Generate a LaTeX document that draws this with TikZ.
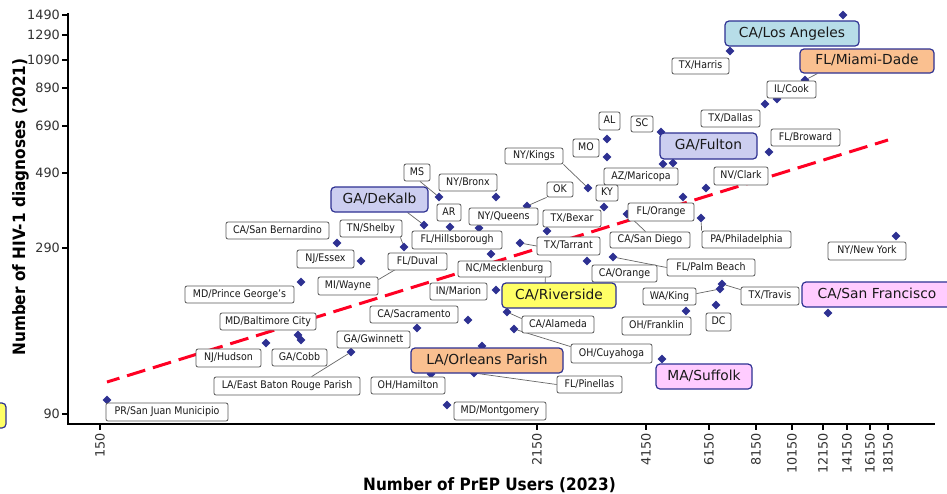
\documentclass[tikz,border=0pt]{standalone}
\usepackage{fontspec}
\setmainfont{DejaVu Sans}
\newfontfamily\labfont[FakeStretch=0.9]{DejaVu Sans}
\newfontfamily\titlefont[FakeStretch=0.9]{DejaVu Sans Bold}
\usetikzlibrary{shapes.geometric,calc}
\pgfdeclarelayer{back}
\pgfdeclarelayer{mid}
\pgfsetlayers{back,mid,main}
\definecolor{navy}{RGB}{46,49,146}
\definecolor{tealf}{RGB}{183,221,232}
\definecolor{orangef}{RGB}{250,192,144}
\definecolor{lavf}{RGB}{204,206,240}
\definecolor{yelf}{RGB}{255,255,102}
\definecolor{pinkf}{RGB}{255,204,255}
\definecolor{trend}{RGB}{255,0,35}
\tikzset{
  lab/.style={draw=black!65, line width=0.8pt, fill=white, rounded corners=2pt, inner sep=0pt,
    font=\labfont\fontsize{10.5}{12}\selectfont, text=black!90, text height=7.6pt, text depth=2.0pt},
  big/.style={draw=navy, line width=1.2pt, rounded corners=4pt, inner sep=0pt,
    font=\fontsize{13.8}{16}\selectfont, text=black!90, text height=10.2pt, text depth=2.6pt},
  dia/.style={diamond, fill=navy, inner sep=0pt, minimum width=9pt, minimum height=9pt},
  conn/.style={draw=black!60, line width=0.7pt},
  tick/.style={line width=1.3pt},
  ticklab/.style={font=\fontsize{12.8}{14}\selectfont, text=black!80, inner sep=0pt},
  axtitle/.style={font=\titlefont\fontsize{17}{20}\selectfont, inner sep=0pt}
}
\newcommand\boxat[6]{%
  \pgfmathsetmacro\cx{(#3+#5)/2}\pgfmathsetmacro\cy{(#4+#6)/2}%
  \pgfmathsetmacro\ww{#5-#3}\pgfmathsetmacro\hh{#6-#4}%
  \node[#1,minimum width=\ww pt,minimum height=\hh pt] (#2) at (\cx,\cy)}
\newcommand\lb[6]{\boxat{lab}{#1}{#2}{#3}{#4}{#5} {#6};}
\newcommand\bg[7]{\boxat{big,fill=#1}{#2}{#3}{#4}{#5}{#6} {#7};}
\begin{document}
\begin{tikzpicture}[x=1pt,y=-1pt]
\useasboundingbox (0,0) rectangle (947,493);
\begin{pgfonlayer}{back}
\fill[white] (0,0) rectangle (947,493);
\draw[trend, line width=3pt, dash pattern=on 19pt off 8pt, dash phase=6pt] (107,382) -- (888,140);
\end{pgfonlayer}
% axes
\draw[line width=2pt] (68,13) -- (68,424) -- (935,424);
\foreach \v/\y in {1490/15,1290/35,1090/60,890/88,690/126,490/173,290/248,90/414}{
  \draw[tick] (62,\y) -- (68,\y);
  \node[ticklab, anchor=east] (yt\v) at (60,\y) {\v};
}
\foreach \v/\x in {150/100,2150/537,4150/646,6150/709,8150/756,10150/792,12150/823,14150/847,16150/870,18150/888}{
  \draw[tick] (\x,424) -- (\x,430);
  \node[ticklab, rotate=90, anchor=east] (xt\v) at (\x,433) {\v};
}
\node[axtitle, anchor=base] (xtitle) at (489.5,490) {Number of PrEP Users (2023)};
\node[axtitle, rotate=90, anchor=base] (ytitle) at (25,207) {Number of HIV-1 diagnoses (2021)};
% small labels
\lb{harris}{672}{58}{729}{74}{TX/Harris}
\lb{cook}{767}{81}{816}{98}{IL/Cook}
\lb{dallas}{701}{110}{760}{127}{TX/Dallas}
\lb{sc}{631}{116}{653}{132}{SC}
\lb{broward}{771}{129}{840}{146}{FL/Broward}
\lb{clark}{714}{167}{768}{185}{NV/Clark}
\lb{al}{599}{112}{620}{130}{AL}
\lb{mo}{573}{139}{599}{157}{MO}
\lb{kings}{505}{148}{563}{164}{NY/Kings}
\lb{maricopa}{604}{168}{678}{185}{AZ/Maricopa}
\lb{ky}{596}{185}{618}{201}{KY}
\lb{ok}{547}{182}{573}{197}{OK}
\lb{bexar}{543}{210}{601}{227}{TX/Bexar}
\lb{queens}{469}{208}{538}{225}{NY/Queens}
\lb{bronx}{439}{174}{497}{191}{NY/Bronx}
\lb{ms}{404}{164}{430}{181}{MS}
\lb{ar}{437}{204}{461}{221}{AR}
\lb{hills}{412}{231}{502}{249}{FL/Hillsborough}
\lb{shelby}{340}{220}{402}{237}{TN/Shelby}
\lb{sanbern}{226}{222}{329}{239}{CA/San Bernardino}
\lb{essex}{297}{250}{354}{268}{NJ/Essex}
\lb{duval}{388}{253}{447}{270}{FL/Duval}
\lb{wayne}{318}{277}{378}{295}{MI/Wayne}
\lb{pg}{185}{286}{294}{303}{MD/Prince George’s}
\lb{sandiego}{610}{232}{690}{248}{CA/San Diego}
\lb{forange}{628}{203}{694}{221}{FL/Orange}
\lb{phila}{702}{231}{791}{248}{PA/Philadelphia}
\lb{newyork}{828}{242}{906}{260}{NY/New York}
\lb{tarrant}{537}{237}{600}{255}{TX/Tarrant}
\lb{corange}{592}{265}{657}{282}{CA/Orange}
\lb{palm}{667}{259}{755}{276}{FL/Palm Beach}
\lb{meck}{458}{261}{551}{277}{NC/Mecklenburg}
\lb{marion}{430}{283}{487}{300}{IN/Marion}
\lb{alameda}{522}{316}{594}{333}{CA/Alameda}
\lb{cuya}{571}{344}{652}{363}{OH/Cuyahoga}
\lb{sacr}{370}{306}{458}{323}{CA/Sacramento}
\lb{gwin}{337}{331}{410}{348}{GA/Gwinnett}
\lb{balt}{220}{313}{316}{330}{MD/Baltimore City}
\lb{hudson}{196}{349}{261}{367}{NJ/Hudson}
\lb{cobb}{272}{349}{327}{366}{GA/Cobb}
\lb{ebr}{214}{377}{360}{395}{LA/East Baton Rouge Parish}
\lb{hamilton}{371}{377}{445}{394}{OH/Hamilton}
\lb{pinellas}{557}{376}{622}{393}{FL/Pinellas}
\lb{montg}{454}{402}{546}{420}{MD/Montgomery}
\lb{prsj}{106}{403}{228}{421}{PR/San Juan Municipio}
\lb{king}{643}{288}{696}{305}{WA/King}
\lb{travis}{741}{287}{799}{305}{TX/Travis}
\lb{franklin}{622}{317}{691}{335}{OH/Franklin}
\lb{dc}{706}{313}{731}{331}{DC}
% highlighted labels
\bg{tealf}{la}{725}{21}{859}{46}{CA/Los Angeles}
\bg{orangef}{miami}{800}{49}{934}{73}{FL/Miami-Dade}
\bg{lavf}{fulton}{660}{133}{757}{159}{GA/Fulton}
\bg{lavf}{dekalb}{331}{187}{428}{212}{GA/DeKalb}
\bg{yelf}{riverside}{502}{283}{616}{308}{CA/Riverside}
\bg{orangef}{orleans}{411}{348}{563}{373}{LA/Orleans Parish}
\bg{pinkf}{sf}{802}{282}{952}{307}{CA/San Francisco}
\bg{pinkf}{suffolk}{656}{364}{752}{389}{MA/Suffolk}
\bg{yelf}{leftbox}{-40}{403}{6}{428}{}
% data points and connectors
\begin{pgfonlayer}{mid}
\foreach \n/\x/\y in {LA/843/15,Harris/730/51,Miami/805/80,Cook/777/99,Dallas/765/104,SC/661/132,
  FultonA/663/164,FultonB/673/163,Broward/769/152,Clark/706/188,Maricopa/683/197,SanDiego/627/214,
  Phila/701/218,NewYork/896/236,AL/607/139,MO/607/157,Kings/588/188,KY/604/207,Bexar/547/231,
  OK/527/206,Queens/479/228,Bronx/496/197,MS/439/197,AR/450/227,Hills/491/254,DeKalb/424/225,
  Shelby/404/247,Essex/361/261,SanBern/337/243,PG/301/282,Tarrant/520/243,COrange/587/261,
  Palm/613/257,Marion/496/290,Riverside/507/312,Cuya/514/329,Sacr/417/328,Extra/468/320,
  Gwin/351/352,Orleans/482/346,Hamilton/431/374,Pinellas/474/373,Montg/447/405,BaltA/298/335,
  BaltB/301/340,Hudson/266/343,PR/107/400,King/720/289,Travis/722/284,SF/828/313,
  Franklin/686/311,DC/716/305,Suffolk/662/359}{
  \node[dia] (p\n) at (\x,\y) {};
}
\coordinate (cMeck) at (545,285);
\coordinate (cWayne) at (398,268);
\draw[conn] (pKings) -- (kings.south east);
\draw[conn] (pMS) -- ($(ms.south)+(3,0)$);
\draw[conn] (pDeKalb) -- ($(dekalb.south east)+(-21,0)$);
\draw[conn] (pShelby) -- ($(shelby.south east)+(-2,0)$);
\draw[conn] (pOK) -- (ok.south west);
\draw[conn] (pSanDiego) -- ($(sandiego.north west)+(36,0)$);
\draw[conn] (pPhila) -- (phila.north west);
\draw[conn] (pPalm) -- (palm.west);
\draw[conn] (pTarrant) -- (tarrant.west);
\draw[conn] (cMeck) -- ($(meck.south east)+(-6,0)$);
\draw[conn] (cWayne) -- ($(wayne.north east)+(0,3)$);
\draw[conn] (pRiverside) -- ($(alameda.north west)+(0,3)$);
\draw[conn] (pCuya) -- ($(cuya.north west)+(0,3)$);
\draw[conn] (pPinellas) -- (pinellas.west);
\draw[conn] (pGwin) -- ($(ebr.north west)+(98,0)$);
\draw[conn] (pMiami) -- ($(miami.south west)+(18,0)$);
\draw[conn] (pKing) -- ($(king.north east)+(0,6)$);
\draw[conn] (pTravis) -- ($(travis.north west)+(0,3)$);
\end{pgfonlayer}
\end{tikzpicture}
\end{document}
